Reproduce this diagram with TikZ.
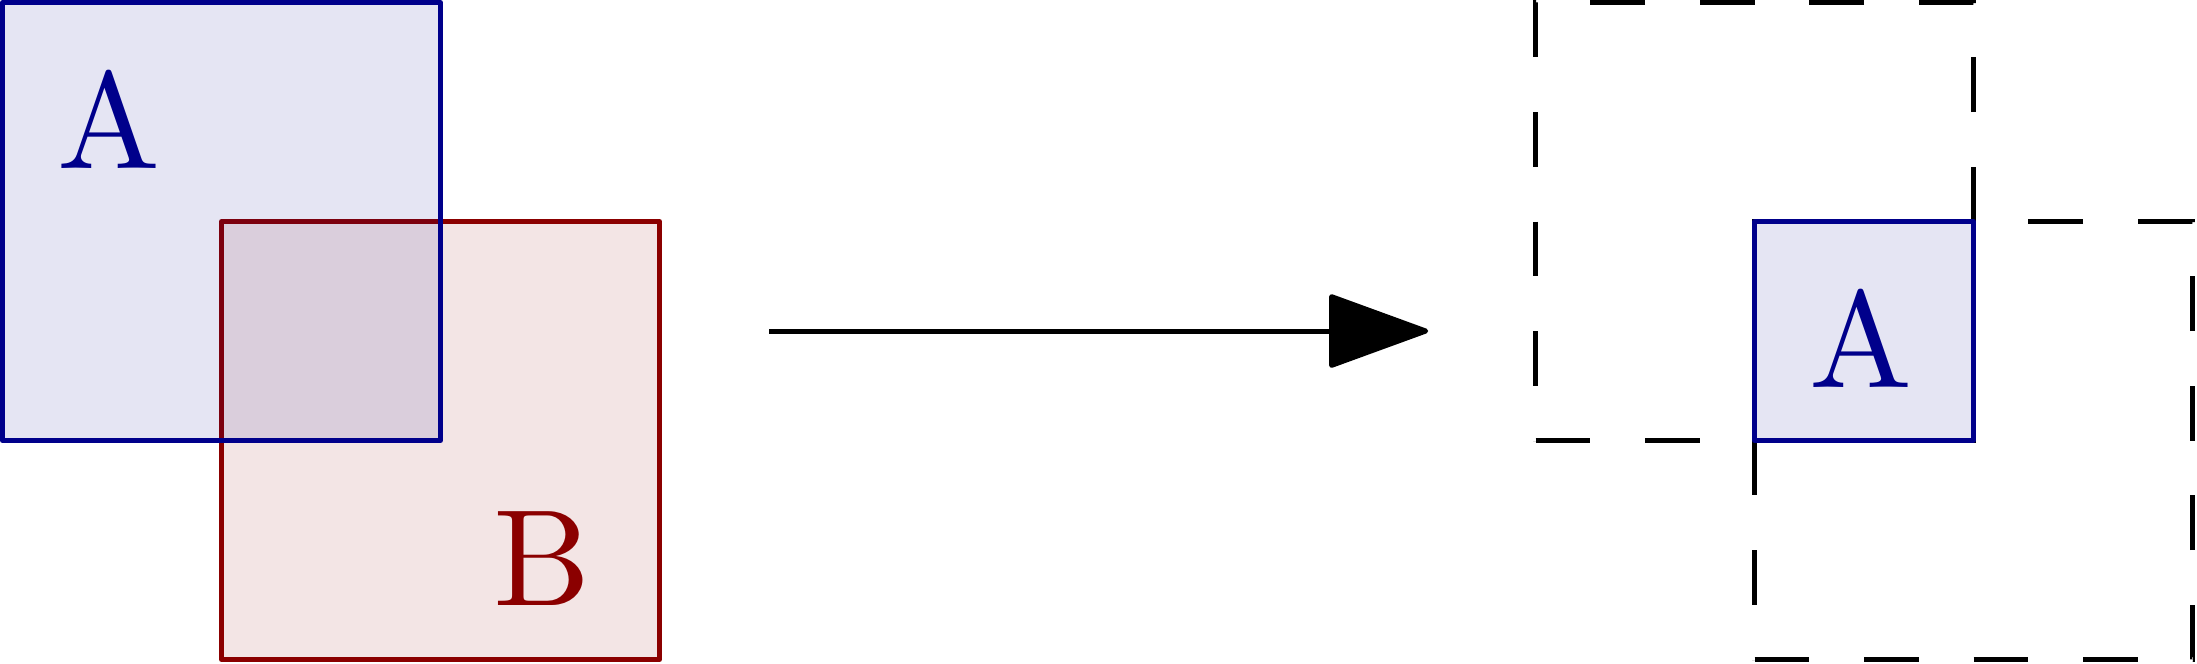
\documentclass[tikz,border=0pt]{standalone}
\usepackage{fontspec}
\newfontfamily\lblfont{lmroman10-regular.otf}
\usetikzlibrary{arrows.meta}
\definecolor{dblue}{RGB}{0,0,139}
\definecolor{dred}{RGB}{139,0,0}
\tikzset{
  base/.style={line width=1.3pt, line join=round},
  boxA/.style={base, draw=dblue, fill=dblue, fill opacity=0.1, draw opacity=1},
  boxB/.style={base, draw=dred, fill=dred, fill opacity=0.1, draw opacity=1},
  dashbox/.style={base, draw=black, line join=miter, dash pattern=on 0.5cm off 0.5cm},
  lbl/.style={inner sep=0pt, font=\lblfont\fontsize{35.7pt}{40pt}\selectfont},
  arrowline/.style={base, -{Triangle[length=0.95cm, width=0.68cm, round]}}
}
\begin{document}
\begin{tikzpicture}
\useasboundingbox (-0.023,-0.032) rectangle (20.041,6.023);
% left: B below A
\draw[boxB] (2,0) rectangle (6,4);
\draw[boxA] (0,2) rectangle (4,6);
\node[lbl, text=dblue] (la) at (0.97,4.93) {A};
\node[lbl, text=dred] (lb) at (4.93,0.92) {B};
% arrow
\coordinate (s) at (7,3);
\coordinate (t) at (13.02,3);
\draw[arrowline] (s) -- (t);
% right
\draw[dashbox] (14,2) -- (18,2) -- (18,6) -- (14,6) -- cycle;
\draw[dashbox] (16,0) -- (20,0) -- (20,4) -- (16,4) -- cycle;
\draw[boxA] (16,2) rectangle (18,4);
\node[lbl, text=dblue] (ra) at (16.97,2.93) {A};
\end{tikzpicture}
\end{document}
